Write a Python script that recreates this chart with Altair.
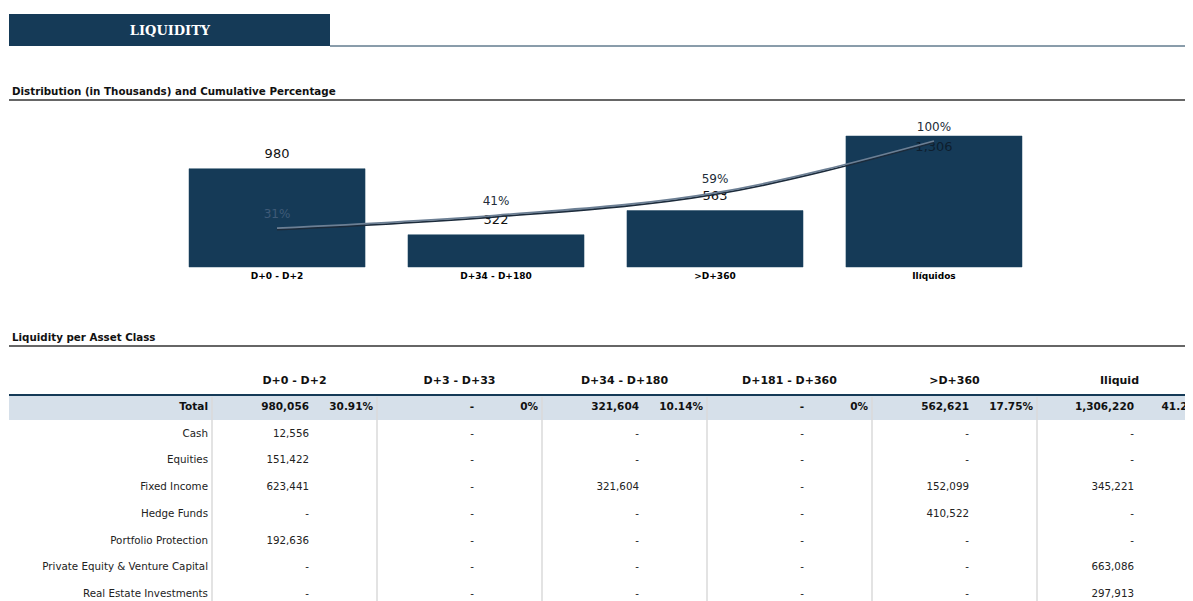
import altair as alt
import pandas as pd

# ---------------- data ----------------
bar_categories = ["D+0 - D+2", "D+34 - D+180", ">D+360", "Ilíquidos"]
bar_values = [980.056, 321.604, 562.621, 1306.220]          # thousands
cum_pct = [30.91, 41.05, 58.80, 100.0]                     # cumulative %

table_columns = ["D+0 - D+2", "D+3 - D+33", "D+34 - D+180", "D+181 - D+360", ">D+360", "Iliquid"]
total_values = [980056, None, 321604, None, 562621, 1306220]
total_pcts = ["30.91%", "0%", "10.14%", "0%", "17.75%", "41.2%"]

asset_classes = ["Cash", "Equities", "Fixed Income", "Hedge Funds", "Portfolio Protection",
                 "Private Equity & Venture Capital", "Real Estate Investments"]
col_d0 = [12556, 151422, 623441, None, 192636, None, None]
col_d3 = [None, None, None, None, None, None, None]
col_d34 = [None, None, 321604, None, None, None, None]
col_d181 = [None, None, None, None, None, None, None]
col_d360 = [None, None, 152099, 410522, None, None, None]
col_illiquid = [None, None, 345221, None, None, 663086, 297913]

# ---------------- styling ----------------
NAVY = "#153a57"
FONT = "DejaVu Sans"
W, H = 1177, 593


def fmt(v):
    return "-" if v is None else f"{v:,}"


bars_df = pd.DataFrame({"category": bar_categories, "value": bar_values, "cum": cum_pct})

table_rows = ["Total"] + asset_classes
body_cols = [col_d0, col_d3, col_d34, col_d181, col_d360, col_illiquid]
body_records = []
for ci, col in enumerate(table_columns):
    for ri, asset in enumerate(asset_classes):
        body_records.append({"row": asset, "col": col, "text": fmt(body_cols[ci][ri])})
body_df = pd.DataFrame(body_records)
total_df = pd.DataFrame({"row": ["Total"] * len(table_columns), "col": table_columns,
                         "text": [fmt(v) for v in total_values], "pct": total_pcts})
cols_df = pd.DataFrame({"col": table_columns})
rowlab_df = pd.DataFrame({"row": asset_classes})
one = pd.DataFrame({"k": [0]})

# ---------------- scales ----------------
xb = alt.Scale(type="band", domain=bar_categories, range=[181, 1014], paddingInner=0.196, paddingOuter=0)
yb = alt.Scale(domain=[0, 1306.22], range=[259, 128], nice=False, zero=True)
yp = alt.Scale(domain=[0, 100], range=[259, 133], nice=False)
yp_shadow = alt.Scale(domain=[0, 100], range=[260.5, 134.5], nice=False)
xt = alt.Scale(type="band", domain=table_columns, range=[204, 1194], paddingInner=0, paddingOuter=0)
yt = alt.Scale(type="point", domain=table_rows, range=[399, 586], padding=0)

layers = []

# header block
layers.append(alt.Chart(one).mark_rect(color=NAVY).encode(
    x=alt.value(1), x2=alt.value(322), y=alt.value(6), y2=alt.value(38)))
layers.append(alt.Chart(one).mark_rule(color=NAVY, strokeWidth=1).encode(
    x=alt.value(322), x2=alt.value(W), y=alt.value(38)))
layers.append(alt.Chart(one).mark_text(text="LIQUIDITY", font="DejaVu Serif", fontSize=13,
                                       fontWeight="bold", color="white", align="center",
                                       baseline="middle").encode(x=alt.value(162), y=alt.value(23)))

# section titles
for label, ty, ly in [("Distribution (in Thousands) and Cumulative Percentage", 84, 92),
                      ("Liquidity per Asset Class", 330, 338)]:
    layers.append(alt.Chart(one).mark_text(text=label, font=FONT, fontSize=10.3, fontWeight="bold",
                                           color="#111", align="left", baseline="middle").encode(
        x=alt.value(4), y=alt.value(ty)))
    layers.append(alt.Chart(one).mark_rule(color="#333", strokeWidth=1.5).encode(
        x=alt.value(1), x2=alt.value(W), y=alt.value(ly)))

# bars
layers.append(alt.Chart(bars_df).mark_bar(color=NAVY, stroke="#1d4461", strokeWidth=0.5).encode(
    x=alt.X("category:N", scale=xb, axis=None, sort=bar_categories),
    y=alt.Y("value:Q", scale=yb, axis=None)))

# bar value labels
layers.append(alt.Chart(bars_df).transform_filter("datum.value < 1000").mark_text(
    font=FONT, fontSize=13, color="#111", align="center", baseline="middle", dy=-15).encode(
    x=alt.X("category:N", scale=xb, axis=None, sort=bar_categories),
    y=alt.Y("value:Q", scale=yb, axis=None),
    text=alt.Text("value:Q", format=",.0f")))
layers.append(alt.Chart(bars_df).transform_filter("datum.value >= 1000").mark_text(
    font=FONT, fontSize=13, color="#0e1e2e", align="center", baseline="middle", dy=11).encode(
    x=alt.X("category:N", scale=xb, axis=None, sort=bar_categories),
    y=alt.Y("value:Q", scale=yb, axis=None),
    text=alt.Text("value:Q", format=",.0f")))

# cumulative line (shadow + line)
layers.append(alt.Chart(bars_df).mark_line(color="#1c2b3b", strokeWidth=1.8, interpolate="monotone").encode(
    x=alt.X("category:N", scale=xb, axis=None, sort=bar_categories),
    y=alt.Y("cum:Q", scale=yp_shadow, axis=None)))
layers.append(alt.Chart(bars_df).mark_line(color="#6c7f94", strokeWidth=1.8, interpolate="monotone").encode(
    x=alt.X("category:N", scale=xb, axis=None, sort=bar_categories),
    y=alt.Y("cum:Q", scale=yp, axis=None)))

# cumulative labels
layers.append(alt.Chart(bars_df).transform_calculate(
    lab="format(datum.cum, '.0f') + '%'").mark_text(
    font=FONT, fontSize=12, align="center", baseline="middle", dy=-14).encode(
    x=alt.X("category:N", scale=xb, axis=None, sort=bar_categories),
    y=alt.Y("cum:Q", scale=yp, axis=None),
    text="lab:N",
    color=alt.condition("datum.cum < 35", alt.value("#3f5a78"), alt.value("#222c38"))))

# category labels under bars
layers.append(alt.Chart(bars_df).mark_text(font=FONT, fontSize=9, fontWeight="bold", color="#000",
                                           align="center", baseline="middle").encode(
    x=alt.X("category:N", scale=xb, axis=None, sort=bar_categories),
    y=alt.value(268), text="category:N"))

# ---------------- table ----------------
layers.append(alt.Chart(one).mark_rect(color="#d6e0ea").encode(
    x=alt.value(1), x2=alt.value(W), y=alt.value(388), y2=alt.value(412)))
layers.append(alt.Chart(one).mark_rule(color=NAVY, strokeWidth=2).encode(
    x=alt.value(1), x2=alt.value(W), y=alt.value(387)))
layers.append(alt.Chart(cols_df).mark_rule(color="#dadada", strokeWidth=1.5).encode(
    x=alt.X("col:N", scale=xt, axis=None, sort=table_columns, bandPosition=0),
    y=alt.value(389), y2=alt.value(H)))

# column headers
layers.append(alt.Chart(cols_df).mark_text(font=FONT, fontSize=11, fontWeight="bold", color="#111",
                                           align="center", baseline="middle").encode(
    x=alt.X("col:N", scale=xt, axis=None, sort=table_columns, bandPosition=0.5),
    y=alt.value(373), text="col:N"))

# row labels
layers.append(alt.Chart(pd.DataFrame({"row": ["Total"]})).mark_text(
    font=FONT, fontSize=10.5, fontWeight="bold", color="#111", align="right", baseline="middle").encode(
    x=alt.value(200), y=alt.Y("row:N", scale=yt, axis=None, sort=table_rows), text="row:N"))
layers.append(alt.Chart(rowlab_df).mark_text(
    font=FONT, fontSize=10.3, color="#222", align="right", baseline="middle").encode(
    x=alt.value(200), y=alt.Y("row:N", scale=yt, axis=None, sort=table_rows), text="row:N"))

# total row values
layers.append(alt.Chart(total_df).mark_text(
    font=FONT, fontSize=10.5, fontWeight="bold", color="#111", align="right", baseline="middle").encode(
    x=alt.X("col:N", scale=xt, axis=None, sort=table_columns, bandPosition=97 / 165),
    y=alt.Y("row:N", scale=yt, axis=None, sort=table_rows), text="text:N"))
layers.append(alt.Chart(total_df).mark_text(
    font=FONT, fontSize=10.5, fontWeight="bold", color="#111", align="right", baseline="middle").encode(
    x=alt.X("col:N", scale=xt, axis=None, sort=table_columns, bandPosition=161 / 165),
    y=alt.Y("row:N", scale=yt, axis=None, sort=table_rows), text="pct:N"))

# body values
layers.append(alt.Chart(body_df).mark_text(
    font=FONT, fontSize=10.3, color="#222", align="right", baseline="middle").encode(
    x=alt.X("col:N", scale=xt, axis=None, sort=table_columns, bandPosition=97 / 165),
    y=alt.Y("row:N", scale=yt, axis=None, sort=table_rows), text="text:N"))

chart = alt.layer(*layers).resolve_scale(
    x="independent", y="independent", color="independent"
).properties(
    width=W, height=H, padding=0, autosize="none"
).configure_view(stroke=None)

chart.save("out.html", embed_options={"renderer": "svg", "actions": False})
